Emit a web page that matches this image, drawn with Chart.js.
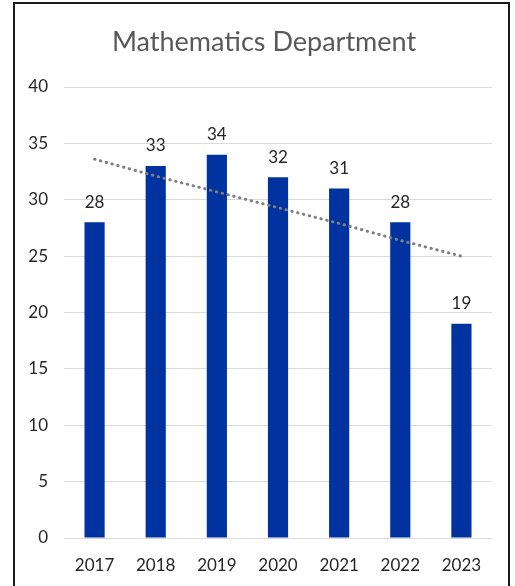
<!DOCTYPE html>
<html>
<head>
<meta charset="utf-8">
<script src="https://cdn.jsdelivr.net/npm/chart.js@4/dist/chart.umd.min.js"></script>
<style>
  html, body { margin: 0; padding: 0; background: #fff; }
  #wrap { position: relative; width: 515px; height: 586px; overflow: hidden; }
  #frame { position: absolute; left: 13px; top: 2px; width: 497px; height: 600px; border: 2px solid #1a1a1a; box-sizing: border-box; }
  canvas { position: absolute; left: 0; top: 0; }
</style>
</head>
<body>
<div id="wrap">
  <div id="frame"></div>
  <canvas id="math" width="515" height="586"></canvas>
</div>
<script>
const years = ["2017", "2018", "2019", "2020", "2021", "2022", "2023"];
const teachers = [28, 33, 34, 32, 31, 28, 19];
// dotted trend line
const trend = [33.6, 32.1, 30.7, 29.3, 27.9, 26.4, 25.0];

const titleText = "Mathematics Department";
const fontFamily = "Lato, 'Open Sans', sans-serif";

// title centred on the framed box, numbers above the bars
const extras = {
    id: "extras",
    afterDraw(chart) {
        const ctx = chart.ctx;
        ctx.save();
        ctx.textAlign = "center";
        ctx.textBaseline = "middle";
        ctx.font = "27px " + fontFamily;
        ctx.fillStyle = "#595959";
        ctx.fillText(titleText, 264, 42);

        ctx.font = "17px " + fontFamily;
        ctx.fillStyle = "#262626";
        chart.getDatasetMeta(1).data.forEach((bar, i) => {
            ctx.fillText(teachers[i], bar.x, bar.y - 20);
        });
        ctx.restore();
    }
};

const math = new Chart("math", {
    type: "bar",
    data: {
        labels: years,
        datasets: [{
            type: "line",
            label: "Trend",
            data: trend,
            borderColor: "#7f7f7f",
            borderWidth: 3,
            borderDash: [0.5, 5.5],
            borderCapStyle: "round",
            pointRadius: 0,
            fill: false,
            order: 0
        }, {
            label: titleText,
            data: teachers,
            backgroundColor: "#0033a0",
            barPercentage: 0.33,
            categoryPercentage: 1,
            order: 1
        }]
    },
    options: {
        responsive: false,
        animation: false,
        layout: { padding: { left: 0, right: 23, top: 87, bottom: 0 } },
        plugins: {
            legend: { display: false },
            tooltip: { enabled: false },
            title: { display: false }
        },
        scales: {
            x: {
                grid: { display: false },
                border: { display: false },
                ticks: { color: "#262626", font: { family: fontFamily, size: 17 }, padding: 9 },
                afterFit(s) { s.height = 48; }
            },
            y: {
                min: 0,
                max: 40,
                grid: { color: "#d9d9d9", drawTicks: false },
                border: { display: false },
                ticks: { stepSize: 5, color: "#262626", font: { family: fontFamily, size: 17 }, padding: 16 },
                afterFit(s) { s.width = 64; }
            }
        }
    },
    plugins: [extras]
});
</script>
</body>
</html>
